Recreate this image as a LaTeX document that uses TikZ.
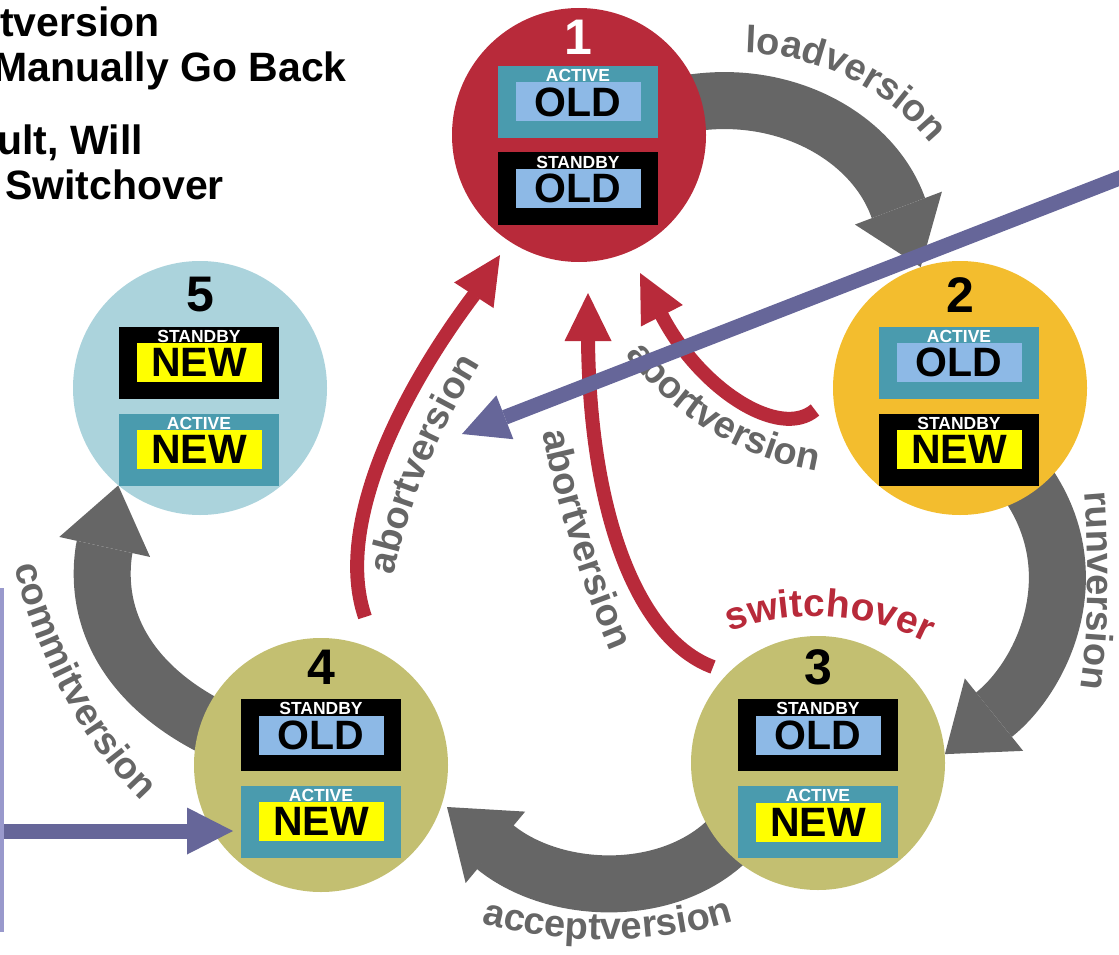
\documentclass[tikz,border=0pt]{standalone}
\usepackage{fontspec}
\setmainfont{Liberation Sans}
\usetikzlibrary{arrows.meta,calc,decorations.text}
\definecolor{cred}{HTML}{B82A3A}
\definecolor{cyel}{HTML}{F3BD2E}
\definecolor{cblu}{HTML}{ABD3DC}
\definecolor{coli}{HTML}{C3BF71}
\definecolor{cteal}{HTML}{4A9BAE}
\definecolor{clb}{HTML}{8DB9E6}
\definecolor{cnew}{HTML}{FFFF00}
\definecolor{cgray}{HTML}{666666}
\definecolor{cpurp}{HTML}{666699}
\definecolor{clav}{HTML}{9999CC}
\newcommand\fsz[1]{\fontsize{#1}{#1}\selectfont}
\newcommand\stateslot[6]{%
  \node[slot,fill=#3] (#1) at #2 {};
  \node[ver,fill=#5] (#1v) at (#1.center) {#6};
  \node[slotlab] (#1l) at ($(#1.north)+(0,10)$) {#4};
}
\begin{document}
\begin{tikzpicture}[x=1pt,y=-1pt,
  state/.style={circle,minimum size=254pt,inner sep=0pt},
  num/.style={font=\fsz{50}\bfseries,inner sep=0pt},
  slot/.style={minimum width=160pt,minimum height=72pt,inner sep=0pt},
  ver/.style={minimum width=125pt,minimum height=39pt,inner sep=0pt,font=\fsz{41}\bfseries},
  slotlab/.style={font=\fsz{17.5}\bfseries,text=white,inner sep=0pt},
  bigarrow/.style={line width=57pt,color=cgray,-{Triangle[length=63pt,width=93pt,line width=0pt,fill=cgray]}},
  redarrow/.style={line width=14pt,color=cred,-{Triangle[length=48pt,width=47pt,line width=0pt,fill=cred]}},
  bluearrow/.style={line width=15pt,color=cpurp,-{Triangle[length=46pt,width=47pt,line width=0pt,fill=cpurp]}},
  glabel/.style={decorate,decoration={text along path,text align=center,text color=cgray,text={|\fsz{38}\bfseries|#1}}},
  rlabel/.style={decorate,decoration={text along path,text align=center,text color=cred,text={|\fsz{39}\bfseries|#1}}},
  note/.style={anchor=base east,inner sep=0pt,font=\fsz{41}\bfseries}
]
\useasboundingbox (0,0) rectangle (1119,955);
\clip (0,0) rectangle (1119,955);

% coordinates of connector ends
\coordinate (A0) at (680,105);   \coordinate (A1) at (898,207);
\coordinate (B0) at (1025,480);  \coordinate (B1) at (996,713);
\coordinate (C0) at (745,820);   \coordinate (C1) at (495,847);  \coordinate (C2) at (447,807);
\coordinate (D0) at (240,740);   \coordinate (D1) at (104,550);

% circles (placed first so that their anchors exist)
\node[state] (c1) at (579,135) {};
\node[state] (c2) at (960,388) {};
\node[state] (c3) at (818,763) {};
\node[state] (c4) at (321,765) {};
\node[state] (c5) at (200,388) {};

% gray process arrows (behind circles)
\draw[bigarrow] (A0) .. controls (780,85) and (872,135) .. (A1) -- (c2.108);
\draw[bigarrow] (B0) .. controls (1090,570) and (1045,672) .. (B1) -- (c3.4);
\draw[bigarrow] (C0) .. controls (690,900) and (560,900) .. (C1) -- (C2);
\draw[bigarrow] (D0) .. controls (140,700) and (92,630) .. (D1) -- (c5.-130);

% circle fills on top of the arrows
\fill[cred] (c1) circle[radius=127pt];
\fill[cyel] (c2) circle[radius=127pt];
\fill[coli] (c3) circle[radius=127pt];
\fill[coli] (c4) circle[radius=127pt];
\fill[cblu] (c5) circle[radius=127pt];

% numbers
\node[num,text=white] (n1) at (578,37) {1};
\node[num] (n2) at (960,295) {2};
\node[num] (n3) at (818,667) {3};
\node[num] (n4) at (321,667) {4};
\node[num] (n5) at (200,295) {5};

% slots
\stateslot{s1a}{(578,102)}{cteal}{ACTIVE}{clb}{OLD}
\stateslot{s1b}{(578,188.5)}{black}{STANDBY}{clb}{OLD}
\stateslot{s2a}{(959,362.5)}{cteal}{ACTIVE}{clb}{OLD}
\stateslot{s2b}{(959,449.5)}{black}{STANDBY}{cnew}{NEW}
\stateslot{s5a}{(199,362.5)}{black}{STANDBY}{cnew}{NEW}
\stateslot{s5b}{(199,449.5)}{cteal}{ACTIVE}{cnew}{NEW}
\stateslot{s4a}{(321,735)}{black}{STANDBY}{clb}{OLD}
\stateslot{s4b}{(321,821.5)}{cteal}{ACTIVE}{cnew}{NEW}
\stateslot{s3a}{(818,735)}{black}{STANDBY}{clb}{OLD}
\stateslot{s3b}{(818,822)}{cteal}{ACTIVE}{cnew}{NEW}

% gray labels
\path[glabel=loadversion] (680.2,60.3) .. controls (796.5,31.3) and (916.8,90) .. (965.6,199.5);
\path[glabel=runversion] (1081,460) .. controls (1091,540) and (1091,640) .. (1075,720);
\path[glabel=acceptversion] (440,910) .. controls (540,950) and (680,950) .. (775,905);
\path[glabel=commitversion] (5,520) .. controls (25,640) and (82,760) .. (178,832);
\path[glabel=abortversion] (387,615) .. controls (401,520) and (430,440) .. (502,330);
\path[glabel=abortversion] (533,380) .. controls (548,480) and (580,590) .. (632,700);
\path[glabel=abortversion] (618,343) .. controls (660,408) and (738,462) .. (830,473);
\path[rlabel=switchover] (700,645) .. controls (770,605) and (880,605) .. (955,660);

% red abort arrows
\coordinate (R1s) at (365,617); \coordinate (R1b) at (474,295); \coordinate (R1t) at (500,255);
\coordinate (R2s) at (713,667); \coordinate (R2b) at (588,340); \coordinate (R2t) at (588,293);
\coordinate (R3s) at (815,410); \coordinate (R3b) at (661,314); \coordinate (R3t) at (640,273);
\draw[redarrow] (R1s) .. controls (335,530) and (395,400) .. (R1b) -- (R1t);
\draw[redarrow] (R2s) .. controls (640,640) and (590,520) .. (R2b) -- (R2t);
\draw[redarrow] (R3s) .. controls (780,440) and (700,390) .. (R3b) -- (R3t);

% blue arrows and left line
\coordinate (BLs) at (1135,172); \coordinate (BLt) at (462,434);
\coordinate (BMs) at (-10,831);  \coordinate (BMt) at (233,831);
\draw[bluearrow] (BLs) -- (BLt);
\draw[bluearrow] (BMs) -- (BMt);
\coordinate (V0) at (0,588); \coordinate (V1) at (0,932);
\draw[clav,line width=8pt] (V0) -- (V1);

% top-left notes
\node[note] (t1) at (160,37) {tversion};
\node[note] (t2) at (347,82) {Manually Go Back};
\node[note] (t3) at (143,154) {ult, Will};
\node[note] (t4) at (224,199) {Switchover};
\end{tikzpicture}
\end{document}
